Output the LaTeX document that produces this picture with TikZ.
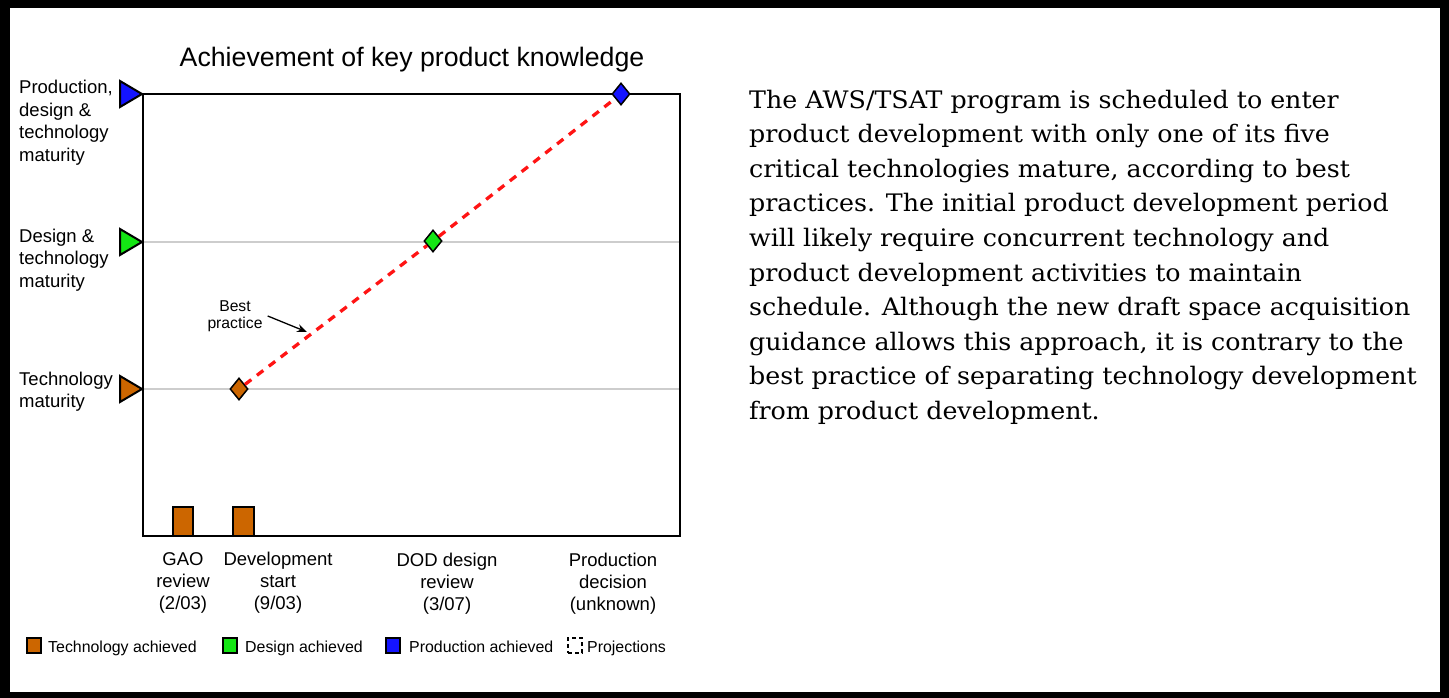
\documentclass[tikz,border=0pt]{standalone}
\usepackage{fontspec}
\setmainfont{Liberation Sans}
\newfontfamily\bodyserif[FakeStretch=1.05]{DejaVu Serif}
\usetikzlibrary{arrows.meta,shapes.geometric}
\definecolor{techor}{RGB}{204,102,0}
\definecolor{desgr}{RGB}{20,230,20}
\definecolor{prodbl}{RGB}{20,20,255}
\definecolor{gridgr}{RGB}{205,205,205}
\definecolor{projred}{RGB}{255,20,20}
\begin{document}
\begin{tikzpicture}[x=1pt,y=-1pt,
  lbl/.style={font=\fontsize{18.5}{22.5}\selectfont, inner sep=0pt, align=left, anchor=north west},
  axl/.style={font=\fontsize{18.5}{22}\selectfont, inner sep=0pt, align=center, anchor=north},
  lgd/.style={font=\fontsize{15.9}{19}\selectfont, inner sep=0pt, anchor=base west},
  lgbox/.style={draw=black, line width=2pt, minimum width=14pt, minimum height=15pt, inner sep=0pt},
  gem/.style={diamond, draw=black, line width=1.5pt, minimum width=18pt, minimum height=22pt, inner sep=0pt},
  tri/.style={draw=black, line width=2pt, line join=miter},
  barbox/.style={draw=black, fill=techor, line width=2.5pt},
  gline/.style={draw=gridgr, line width=2.5pt}
]
\useasboundingbox (0,0) rectangle (1449,698);
% frame
\fill[black] (0,0) rectangle (1449,698);
\fill[white] (9.5,8.3) rectangle (1440,692);
% title
\node[font=\fontsize{26.7}{30}\selectfont, inner sep=0pt, anchor=base] (title) at (412,67) {Achievement of key product knowledge};
% grid lines
\draw[gline] (143,242) -- (680,242);
\draw[gline] (143,389) -- (680,389);
% chart box
\draw[line width=2.5pt] (143,94) rectangle (680,536);
% bars
\draw[barbox] (173,507) rectangle (193,536);
\draw[barbox] (233,507) rectangle (254,536);
% level triangles
\draw[tri, fill=prodbl] (120,81) -- (142,94) -- (120,107) -- cycle;
\draw[tri, fill=desgr] (120,229) -- (142,242) -- (120,255) -- cycle;
\draw[tri, fill=techor] (120,376) -- (142,389) -- (120,402) -- cycle;
% level labels
\node[lbl] (lP) at (19,80) {Production,\\design \&\\technology\\maturity};
\node[lbl] (lD) at (19,228.7) {Design \&\\technology\\maturity};
\node[lbl] (lT) at (19,371.7) {Technology\\maturity};
% diamonds
\node[gem, fill=techor] (dT) at (239,389) {};
\node[gem, fill=desgr] (dD) at (433,241) {};
\node[gem, fill=prodbl] (dP) at (621,94) {};
\draw[projred, line width=3.3pt, dash pattern=on 8pt off 7pt] (dT) -- (dD) -- (dP);
% best practice
\node[font=\fontsize{15.7}{16.5}\selectfont, inner sep=0pt, align=center, anchor=north] (bp) at (235,300.5) {Best\\practice};
\coordinate (bptip) at (307,332);
\draw[line width=1.3pt, -{Stealth[length=10pt,width=8pt]}] ([xshift=5pt]bp.east) -- (bptip);
% axis labels
\node[axl] (xG) at (183,552) {GAO\\review\\(2/03)};
\node[axl] (xS) at (278,552) {Development\\start\\(9/03)};
\node[axl] (xR) at (447,552.5) {DOD design\\review\\(3/07)};
\node[axl] (xP) at (613,552.5) {Production\\decision\\(unknown)};
% legend
\node[lgbox, fill=techor] (gT) at (34,645.5) {};
\node[lgd] (tT) at (48,652.5) {Technology achieved};
\node[lgbox, fill=desgr] (gD) at (230,645.5) {};
\node[lgd] (tD) at (245,652.5) {Design achieved};
\node[lgbox, fill=prodbl] (gP) at (392.5,645.5) {};
\node[lgd] (tP) at (409,652.5) {Production achieved};
\node[lgbox, dash pattern=on 4pt off 3pt, line width=2.5pt] (gX) at (575,645.5) {};
\node[lgd] (tX) at (587,652.5) {Projections};
% paragraph
\node[font=\bodyserif\fontsize{24.1}{34.6}\selectfont, inner sep=0pt, align=left, anchor=north west] (para) at (749,89.5) {The AWS/TSAT program is scheduled to enter\\
product development with only one of its five\\
critical technologies mature, according to best\\
practices. The initial product development period\\
will likely require concurrent technology and\\
product development activities to maintain\\
schedule. Although the new draft space acquisition\\
guidance allows this approach, it is contrary to the\\
best practice of separating technology development\\
from product development.};
\end{tikzpicture}
\end{document}
